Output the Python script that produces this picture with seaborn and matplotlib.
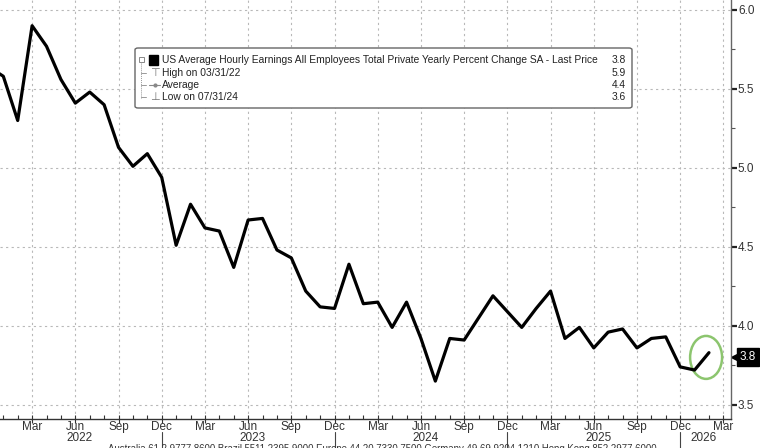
import matplotlib

matplotlib.use("Agg")
import matplotlib.pyplot as plt
import matplotlib.patches as mpatches
import matplotlib.transforms as mtransforms
from matplotlib.lines import Line2D
import pandas as pd
import seaborn as sns

# month index: 0 = Jan 2022 (first point is Dec 2021, just off the left edge)
MONTH_INDEX = list(range(-1, 50))
EARNINGS_YOY = [
    5.64,                                                                    # Dec 21
    5.58, 5.30, 5.90, 5.77, 5.56, 5.41, 5.48, 5.40, 5.13, 5.01, 5.09, 4.94,  # 2022
    4.51, 4.77, 4.62, 4.60, 4.37, 4.67, 4.68, 4.48, 4.43, 4.22, 4.12, 4.11,  # 2023
    4.39, 4.14, 4.15, 3.99, 4.15, 3.92, 3.65, 3.92, 3.91, 4.05, 4.19, 4.09,  # 2024
    3.99, 4.11, 4.22, 3.92, 3.99, 3.86, 3.96, 3.98, 3.86, 3.92, 3.93, 3.74,  # 2025
    3.72, 3.83,                                                              # 2026
]
TICK_POS = list(range(2, 51, 3))
TICK_LABELS = ["Mar", "Jun", "Sep", "Dec"] * 4 + ["Mar"]
YEAR_LABELS = ["2022", "2023", "2024", "2025", "2026"]
YEAR_POS = [5.3, 17.3, 29.3, 41.3, 48.6]
YEAR_BREAKS = [11, 23, 35, 47]
Y_TICKS = [3.5, 4.0, 4.5, 5.0, 5.5, 6.0]
Y_MINOR = [3.75, 4.25, 4.75, 5.25, 5.75]

TITLE = "US Average Hourly Earnings All Employees Total Private Yearly Percent Change SA - Last Price"
LEGEND_LABELS = [TITLE, "High on 03/31/22", "Average", "Low on 07/31/24"]
LEGEND_VALUES = ["3.8", "5.9", "4.4", "3.6"]
LAST_PRICE = "3.8"
SOURCE = ("Australia 61 2 9777 8600 Brazil 5511 2395 9000 Europe 44 20 7330 7500 "
          "Germany 49 69 9204 1210 Hong Kong 852 2977 6000")

W, H = 760, 448
TEXT = "#333333"


def px(x, y):
    return x / W, 1 - y / H


def main() -> None:
    sns.set_theme(style="white")
    plt.rcParams["font.family"] = ["Liberation Sans", "DejaVu Sans"]

    df = pd.DataFrame({"month": MONTH_INDEX, "yoy": EARNINGS_YOY})

    fig = plt.figure(figsize=(W / 100, H / 100), dpi=100)
    ax = fig.add_axes([0, 1 - 419 / H, 731 / W, 419 / H])

    sns.lineplot(data=df, x="month", y="yoy", color="black", linewidth=2.3, ax=ax)
    ax.set_xlim(-0.23, 50.53)
    ax.set_ylim(3.41, 6.063)
    ax.set_xlabel("")
    ax.set_ylabel("")

    ax.set_xticks(TICK_POS)
    ax.set_xticklabels(TICK_LABELS)
    ax.set_xticks(range(0, 51), minor=True)
    ax.yaxis.tick_right()
    ax.set_yticks(Y_TICKS)
    ax.set_yticklabels([f"{v:.1f}" for v in Y_TICKS])
    ax.set_yticks(Y_MINOR, minor=True)

    for side in ("left", "top"):
        ax.spines[side].set_visible(False)
    ax.spines["right"].set_color("#666666")
    ax.spines["bottom"].set_color("#333333")
    for side in ("right", "bottom"):
        ax.spines[side].set_linewidth(1.0)

    ax.tick_params(axis="x", which="major", direction="inout", length=6, width=0.8,
                   color="#333333", labelsize=8.5, labelcolor=TEXT, pad=-1.5, bottom=True)
    ax.tick_params(axis="x", which="minor", direction="in", length=3, width=0.8,
                   color="#333333", bottom=True)
    ax.tick_params(axis="y", which="major", direction="out", length=4, width=1.6,
                   color="#222222", labelsize=8.5, labelcolor=TEXT, pad=1, right=True, left=False)
    ax.tick_params(axis="y", which="minor", direction="out", length=3, width=0.8,
                   color="#555555", right=True, left=False)

    ax.grid(True, which="major", color="#b8b8b8", linestyle=(0, (2, 3)), linewidth=0.8)

    # year labels and year separators under the month labels
    xt = ax.get_xaxis_transform()
    for pos, label in zip(YEAR_POS, YEAR_LABELS):
        ax.text(pos, -0.045, label, transform=xt, ha="center", va="center",
                fontsize=8.5, color=TEXT, clip_on=False)
    for pos in YEAR_BREAKS:
        ax.add_line(Line2D([pos, pos], [-0.031, -0.08], transform=xt, color="#444444",
                           linewidth=0.8, clip_on=False))

    # green highlight around the latest prints
    ax.add_patch(mpatches.Ellipse((48.8, 3.80), 2.22, 0.272, fill=False,
                                  edgecolor="#8cc56e", linewidth=1.8))

    # last price tag: small pointer plus black box
    yt = mtransforms.blended_transform_factory(ax.transAxes, ax.transData)
    last = float(LAST_PRICE)
    ax.plot([1.005], [last], transform=yt, marker="<", markersize=6, color="black",
            clip_on=False)
    ax.text(1.012, last, LAST_PRICE, transform=yt, ha="left", va="center",
            fontsize=8.5, color="white", clip_on=False,
            bbox=dict(boxstyle="square,pad=0.25", fc="black", ec="black"))

    # legend box in the Bloomberg style
    tf = fig.transFigure
    x0, y0 = px(135, 108)
    box = mpatches.FancyBboxPatch((x0, y0), 497 / W, 60 / H, transform=tf,
                                  boxstyle="round,pad=0,rounding_size=0.004",
                                  fc="white", ec="#666666", linewidth=1.0)
    fig.add_artist(box)
    rows = [60, 72.5, 85, 97.5]
    for ry, label, value in zip(rows, LEGEND_LABELS, LEGEND_VALUES):
        fig.text(*px(162, ry), label, fontsize=7.4, color="#222222", ha="left", va="center")
        fig.text(*px(626, ry), value, fontsize=7.4, color="#222222", ha="right", va="center")
    # tree lines
    fig.add_artist(mpatches.Rectangle(px(138.5, 62), 5 / W, 5 / H, transform=tf,
                                      fill=False, ec="#888888", linewidth=0.7))
    fig.add_artist(Line2D([px(141, 0)[0]] * 2, [px(0, 62)[1], px(0, 98)[1]],
                          transform=tf, color="#999999", linewidth=0.7, linestyle=(0, (1, 1))))
    for ry in rows[1:]:
        fig.add_artist(Line2D([px(141, 0)[0], px(146, 0)[0]], [px(0, ry)[1]] * 2,
                              transform=tf, color="#999999", linewidth=0.7))
    fig.add_artist(mpatches.Rectangle(px(149, 65), 9 / W, 10 / H, transform=tf,
                                      fc="black", ec="black"))
    fig.text(*px(155, 72.5), "\u22a4", fontsize=8, color="#777777", ha="center", va="center")
    fig.add_artist(Line2D([px(149, 0)[0], px(160, 0)[0]], [px(0, 85)[1]] * 2,
                          transform=tf, color="#888888", linewidth=0.8))
    fig.add_artist(Line2D([px(154.5, 0)[0]], [px(0, 85)[1]], transform=tf, marker="o",
                          markersize=2, color="#888888"))
    fig.text(*px(155, 97.5), "\u22a5", fontsize=8, color="#777777", ha="center", va="center")

    # source line, cut by the bottom edge as in the original
    fig.text(*px(108, 444), SOURCE, fontsize=6.9, color=TEXT, ha="left", va="top")

    fig.savefig("out.png", dpi=100)
    plt.close(fig)


if __name__ == "__main__":
    main()
